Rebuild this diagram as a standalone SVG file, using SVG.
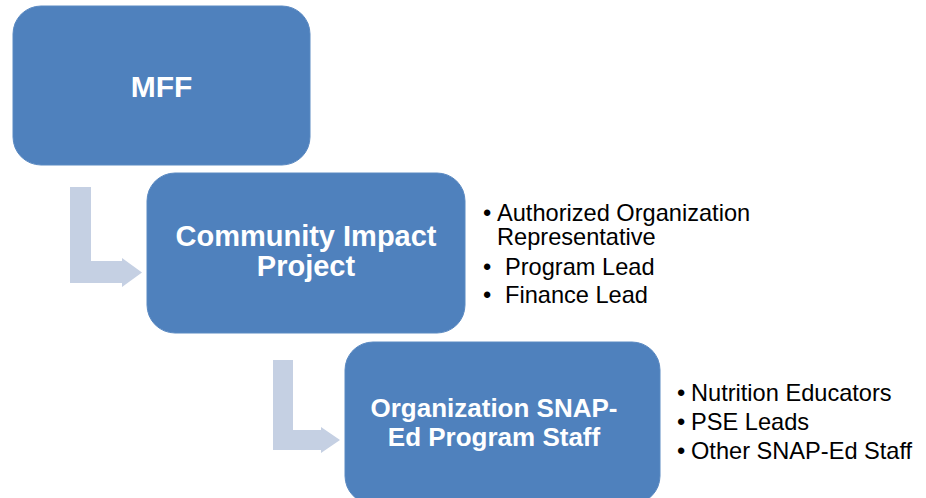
<svg xmlns="http://www.w3.org/2000/svg" width="926" height="498" viewBox="0 0 926 498">
<style>
.box{fill:#4F81BD;stroke:#5B8AC2;stroke-width:1}
.arrow{fill:#C5D0E3}
.t{font-family:"Liberation Sans",Arial,sans-serif;font-weight:bold;fill:#FFFFFF;text-anchor:middle}
.b{font-family:"Liberation Sans",Arial,sans-serif;font-size:23.6px;fill:#000000}
</style>
<rect width="926" height="498" fill="#FFFFFF"/>
<g id="connectors">
<path class="arrow" d="M70,187 H91 V261 H122 V258 L142,272.5 L122,287 V283 H70 Z"/>
<path class="arrow" d="M273,360 H293 V430 H321 V427 L340,440 L321,453 V450 H273 Z"/>
</g>
<g id="node-mff">
<rect class="box" x="13" y="6" width="297" height="159" rx="28" ry="28"/>
<text class="t" x="161.5" y="97" font-size="30">MFF</text>
</g>
<g id="node-cip">
<rect class="box" x="147" y="173" width="318" height="160" rx="28" ry="28"/>
<text class="t" x="306" y="246" font-size="29">Community Impact</text>
<text class="t" x="306" y="276" font-size="29">Project</text>
</g>
<g id="node-staff">
<rect class="box" x="345" y="342" width="315" height="162" rx="28" ry="28"/>
<text class="t" x="494" y="417" font-size="26">Organization SNAP-</text>
<text class="t" x="494" y="446" font-size="26">Ed Program Staff</text>
</g>
<g id="list-cip">
<text class="b" x="483" y="221">•</text>
<text class="b" x="497" y="221">Authorized Organization</text>
<text class="b" x="497" y="245">Representative</text>
<text class="b" x="483" y="275">•</text>
<text class="b" x="505" y="275">Program Lead</text>
<text class="b" x="483" y="303">•</text>
<text class="b" x="505" y="303">Finance Lead</text>
</g>
<g id="list-staff">
<text class="b" x="677" y="401">•</text>
<text class="b" x="691" y="401">Nutrition Educators</text>
<text class="b" x="677" y="430">•</text>
<text class="b" x="691" y="430">PSE Leads</text>
<text class="b" x="677" y="459">•</text>
<text class="b" x="691" y="459">Other SNAP-Ed Staff</text>
</g>
</svg>
